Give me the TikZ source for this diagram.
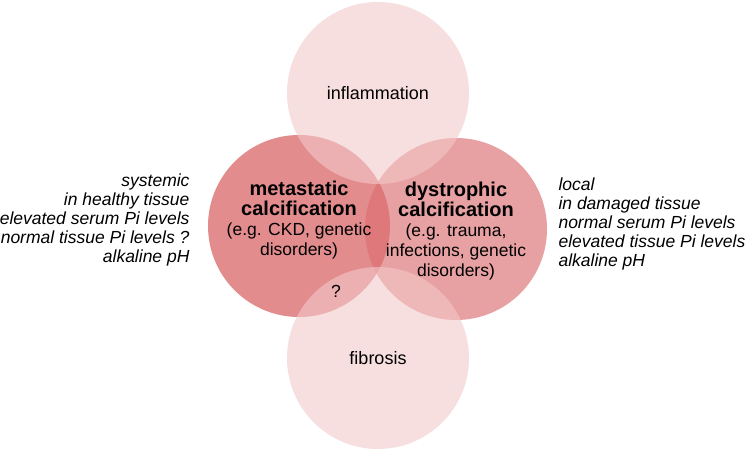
\documentclass[tikz,border=0pt]{standalone}
\usepackage{fontspec}
\setmainfont{Liberation Sans}
\definecolor{metared}{RGB}{227,140,142}
\definecolor{dysred}{RGB}{220,110,112}
\definecolor{palepink}{RGB}{242,200,202}
\begin{document}
\begin{tikzpicture}[x=1pt,y=-1pt,
    disc/.style={circle,minimum size=182pt,inner sep=0pt},
    sidetext/.style={font=\fontsize{17.5}{19}\selectfont\itshape},
    midtext/.style={align=center,font=\fontsize{17.5}{20}\selectfont}]
      \useasboundingbox (0,0) rectangle (750,457);
      % the four discs
      \node[disc,fill=metared] (meta) at (299,226) {};
      \node[disc,fill=dysred,fill opacity=0.65] (dys) at (456,229) {};
      \node[disc,fill=palepink,fill opacity=0.6] (infl) at (378,93) {};
      \node[disc,fill=palepink,fill opacity=0.6] (fib) at (378,358) {};
      % labels
      \draw
        (infl) node[font=\fontsize{18}{20}\selectfont] (inflabel){inflammation}
        (fib) node[font=\fontsize{18}{20}\selectfont] (fiblabel){fibrosis}
        ([yshift=6pt]meta) node[midtext] (metalabel){{\fontsize{20}{21}\selectfont\bfseries metastatic}\\{\fontsize{20}{21}\selectfont\bfseries calcification}\\(e.g. CKD, genetic\\disorders)}
        ([yshift=-2pt]dys) node[midtext] (dyslabel){{\fontsize{20}{21}\selectfont\bfseries dystrophic}\\{\fontsize{20}{21}\selectfont\bfseries calcification}\\(e.g. trauma,\\infections, genetic\\disorders)}
        (336,291) node[font=\fontsize{17.5}{19}\selectfont] (unknown){?};
      \node[sidetext,align=right,anchor=east] (systemic) at (193,220)
        {systemic\\in healthy tissue\\elevated serum Pi levels\\normal tissue Pi levels ?\\alkaline pH};
      \node[sidetext,align=left,anchor=west] (local) at (555,224)
        {local\\in damaged tissue\\normal serum Pi levels\\elevated tissue Pi levels\\alkaline pH};
    \end{tikzpicture}
\end{document}
